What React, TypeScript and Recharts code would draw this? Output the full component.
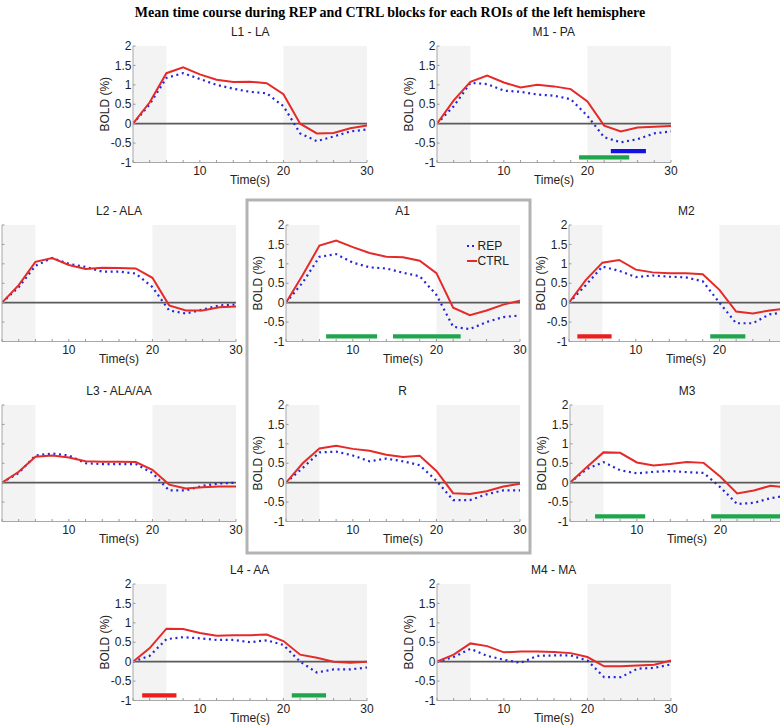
import React from 'react';
import { LineChart, Line, XAxis, YAxis, ReferenceArea, ReferenceLine, Label, Legend } from 'recharts';

const TIME = [2, 4, 6, 8, 10, 12, 14, 16, 18, 20, 22, 24, 26, 28, 30];
const Y_TICKS = [-1, -0.5, 0, 0.5, 1, 1.5, 2];
const X_LABELLED = [10, 20, 30];

const L1_CTRL = [0, 0.55, 1.3, 1.45, 1.27, 1.13, 1.07, 1.08, 1.04, 0.76, 0.0, -0.25, -0.24, -0.12, -0.05];
const L1_REP = [0, 0.5, 1.18, 1.3, 1.15, 1.0, 0.9, 0.82, 0.78, 0.45, -0.25, -0.45, -0.33, -0.2, -0.15];
const M1_CTRL = [0, 0.6, 1.08, 1.24, 1.06, 0.93, 1.0, 0.96, 0.89, 0.57, -0.05, -0.2, -0.1, -0.08, -0.06];
const M1_REP = [0, 0.45, 1.05, 1.02, 0.85, 0.82, 0.75, 0.72, 0.63, 0.2, -0.35, -0.48, -0.4, -0.25, -0.2];
const L2_CTRL = [0, 0.45, 1.05, 1.15, 0.97, 0.87, 0.9, 0.89, 0.88, 0.64, -0.07, -0.2, -0.2, -0.12, -0.1];
const L2_REP = [0, 0.4, 0.95, 1.15, 1.0, 0.92, 0.8, 0.8, 0.75, 0.4, -0.2, -0.28, -0.18, -0.07, -0.05];
const A1_CTRL = [0, 0.71, 1.47, 1.6, 1.43, 1.28, 1.18, 1.17, 1.08, 0.76, -0.13, -0.32, -0.2, -0.05, 0.05];
const A1_REP = [0, 0.52, 1.18, 1.25, 1.03, 0.91, 0.88, 0.77, 0.68, 0.2, -0.62, -0.68, -0.5, -0.37, -0.33];
const M2_CTRL = [0, 0.58, 1.03, 1.1, 0.85, 0.78, 0.76, 0.76, 0.73, 0.33, -0.23, -0.28, -0.2, -0.15, -0.12];
const M2_REP = [0, 0.45, 0.93, 0.82, 0.66, 0.7, 0.67, 0.65, 0.55, 0.0, -0.53, -0.53, -0.3, -0.25, -0.2];
const L3_CTRL = [0, 0.28, 0.67, 0.7, 0.65, 0.55, 0.54, 0.54, 0.53, 0.33, -0.05, -0.15, -0.12, -0.1, -0.1];
const L3_REP = [0, 0.25, 0.7, 0.75, 0.7, 0.5, 0.48, 0.48, 0.48, 0.25, -0.2, -0.2, -0.08, -0.02, 0.0];
const R_CTRL = [0, 0.5, 0.88, 0.95, 0.87, 0.82, 0.72, 0.66, 0.69, 0.3, -0.27, -0.29, -0.22, -0.1, -0.03];
const R_REP = [0, 0.38, 0.78, 0.8, 0.7, 0.55, 0.62, 0.55, 0.45, 0.05, -0.45, -0.45, -0.3, -0.2, -0.2];
const M3_CTRL = [0, 0.4, 0.78, 0.77, 0.52, 0.44, 0.48, 0.53, 0.51, 0.15, -0.28, -0.2, -0.08, -0.12, -0.1];
const M3_REP = [0, 0.35, 0.53, 0.32, 0.24, 0.28, 0.3, 0.27, 0.25, -0.12, -0.55, -0.52, -0.4, -0.33, -0.3];
const L4_CTRL = [0, 0.35, 0.85, 0.84, 0.74, 0.67, 0.68, 0.68, 0.7, 0.53, 0.18, 0.1, 0.0, -0.03, 0.0];
const L4_REP = [0, 0.15, 0.58, 0.63, 0.6, 0.56, 0.56, 0.5, 0.55, 0.43, 0.0, -0.28, -0.2, -0.2, -0.15];
const M4_CTRL = [0, 0.18, 0.47, 0.4, 0.24, 0.26, 0.26, 0.25, 0.22, 0.12, -0.12, -0.12, -0.1, -0.08, 0.03];
const M4_REP = [0, 0.12, 0.33, 0.15, 0.05, -0.03, 0.15, 0.16, 0.16, 0.03, -0.4, -0.4, -0.18, -0.16, -0.07];

// significance intervals
const M1_SIG = [{ from: 19, to: 25, kind: 'green', lane: 0 }, { from: 22.8, to: 27, kind: 'blue', lane: 1 }];
const A1_SIG = [{ from: 6.8, to: 12.9, kind: 'green', lane: 0 }, { from: 14.8, to: 22.9, kind: 'green', lane: 0 }];
const M2_SIG = [{ from: 3, to: 7.1, kind: 'red', lane: 0 }, { from: 18.9, to: 23.1, kind: 'green', lane: 0 }];
const M3_SIG = [{ from: 5, to: 11, kind: 'green', lane: 0 }, { from: 18.9, to: 30, kind: 'green', lane: 0 }];
const L4_SIG = [{ from: 3.1, to: 7.2, kind: 'red', lane: 0 }, { from: 21, to: 25.1, kind: 'green', lane: 0 }];

const TASK_BLOCKS = [[2, 6], [20, 30]];

const RED = '#e52a2a';
const BLUE = '#2626d8';
const SIG_COLORS: Record<string, string> = { green: '#1fa64d', blue: '#1212e0', red: '#ee1c1c' };
const LANE_Y = [-0.87, -0.71];
const FONT = '"Liberation Sans", Arial, sans-serif';
const AX = '#a8a8a8';
const TXT = '#222';

const VIEW_W = 780;
const YW = 55;
const MR = 10;
const MT = 30;
const XH = 36;
const PW = 234;
const PH = 116.5;

type PanelDef = {
  name: string;
  left: number;
  top: number;
  ctrl: number[];
  rep: number[];
  sig?: { from: number; to: number; kind: string; lane: number }[];
  legend?: boolean;
};

const PANELS: PanelDef[] = [
  { name: 'L1 - LA', left: 133.3, top: 46, ctrl: L1_CTRL, rep: L1_REP },
  { name: 'M1 - PA', left: 436.7, top: 46, ctrl: M1_CTRL, rep: M1_REP, sig: M1_SIG },
  { name: 'L2 - ALA', left: 2, top: 225, ctrl: L2_CTRL, rep: L2_REP },
  { name: 'A1', left: 285.7, top: 225, ctrl: A1_CTRL, rep: A1_REP, sig: A1_SIG, legend: true },
  { name: 'M2', left: 569.3, top: 225, ctrl: M2_CTRL, rep: M2_REP, sig: M2_SIG },
  { name: 'L3 - ALA/AA', left: 2, top: 405, ctrl: L3_CTRL, rep: L3_REP },
  { name: 'R', left: 285.7, top: 405, ctrl: R_CTRL, rep: R_REP },
  { name: 'M3', left: 570, top: 405, ctrl: M3_CTRL, rep: M3_REP, sig: M3_SIG },
  { name: 'L4 - AA', left: 132.7, top: 584, ctrl: L4_CTRL, rep: L4_REP, sig: L4_SIG },
  { name: 'M4 - MA', left: 436.7, top: 584, ctrl: M4_CTRL, rep: M4_REP },
];

const makeXTick = (offsetX: number) => (props: any) => {
  const { x, y, payload } = props;
  const v = payload.value;
  const visible = X_LABELLED.includes(v) && offsetX + x + 8 < VIEW_W;
  return (
    <g>
      <line x1={x} x2={x} y1={y} y2={y - 2.5} stroke="#999" strokeWidth={1} />
      {visible && (
        <text x={x} y={y + 12} textAnchor="middle" fontSize={12} fontFamily={FONT} fill={TXT}>
          {v}
        </text>
      )}
    </g>
  );
};

const makeYTick = (showText: boolean) => (props: any) => {
  const { x, y, payload } = props;
  return (
    <g>
      <line x1={x} x2={x + 2.5} y1={y} y2={y} stroke="#999" strokeWidth={1} />
      {showText && (
        <text x={x - 1.5} y={y + 4.2} textAnchor="end" fontSize={12} fontFamily={FONT} fill={TXT}>
          {String(payload.value)}
        </text>
      )}
    </g>
  );
};

const TimeLabel = (props: any) => {
  const vb = props.viewBox || {};
  return (
    <text x={vb.x + vb.width / 2} y={vb.y + 21.5} textAnchor="middle" fontSize={12} fontFamily={FONT} fill={TXT}>
      Time(s)
    </text>
  );
};

const BoldLabel = (props: any) => {
  const vb = props.viewBox || {};
  const cx = vb.x + vb.width - 28;
  const cy = vb.y + vb.height / 2;
  return (
    <text
      x={cx}
      y={cy}
      transform={`rotate(-90 ${cx} ${cy})`}
      textAnchor="middle"
      dominantBaseline="central"
      fontSize={12}
      fontFamily={FONT}
      fill={TXT}
    >
      BOLD (%)
    </text>
  );
};

const LegendBox = () => (
  <svg width={60} height={34} style={{ display: 'block', overflow: 'visible' }}>
    <line x1={0} x2={10} y1={8} y2={8} stroke={BLUE} strokeWidth={2} strokeDasharray="2 3" />
    <text x={10.5} y={12.3} fontSize={12} fontFamily={FONT} fill={TXT}>REP</text>
    <line x1={0} x2={10} y1={23} y2={23} stroke={RED} strokeWidth={2} />
    <text x={10.5} y={27.3} fontSize={12} fontFamily={FONT} fill={TXT}>CTRL</text>
  </svg>
);

function Panel({ p }: { p: PanelDef }) {
  const data = TIME.map((t, i) => ({ t, ctrl: p.ctrl[i], rep: p.rep[i] }));
  const W = YW + PW + MR;
  const H = MT + PH + XH;
  const offsetX = p.left - YW;
  const yTextVisible = p.left > 40;
  const XT = makeXTick(offsetX);
  const YT = makeYTick(yTextVisible);
  return (
    <div style={{ position: 'absolute', left: offsetX, top: p.top - MT, width: W, height: H }}>
      <LineChart width={W} height={H} data={data} margin={{ top: MT, right: MR, bottom: 0, left: 0 }}>
        {TASK_BLOCKS.map(([a, b], i) => (
          <ReferenceArea key={'blk' + i} x1={a} x2={b} y1={-1} y2={2} fill="#f3f3f3" fillOpacity={1} stroke="none" />
        ))}
        <XAxis
          dataKey="t"
          type="number"
          domain={[2, 30]}
          ticks={TIME}
          interval={0}
          tick={(props: any) => <XT {...props} />}
          tickLine={false}
          tickSize={0}
          tickMargin={0}
          height={XH}
          axisLine={{ stroke: AX }}
          allowDataOverflow
        >
          <Label content={TimeLabel} />
        </XAxis>
        <YAxis
          type="number"
          domain={[-1, 2]}
          ticks={Y_TICKS}
          interval={0}
          tick={(props: any) => <YT {...props} />}
          tickLine={false}
          tickSize={0}
          tickMargin={0}
          width={YW}
          axisLine={{ stroke: AX }}
          allowDataOverflow
        >
          {yTextVisible && <Label content={BoldLabel} />}
        </YAxis>
        <ReferenceLine y={0} stroke="#5a5a5a" strokeWidth={1.6} />
        {(p.sig || []).map((s, i) => (
          <ReferenceArea
            key={'sig' + i}
            x1={s.from}
            x2={s.to}
            y1={LANE_Y[s.lane] - 0.055}
            y2={LANE_Y[s.lane] + 0.055}
            fill={SIG_COLORS[s.kind]}
            fillOpacity={1}
            stroke="none"
          />
        ))}
        <Line
          type="linear"
          dataKey="rep"
          stroke={BLUE}
          strokeWidth={2.2}
          strokeDasharray="2 3.6"
          dot={false}
          isAnimationActive={false}
        />
        <Line type="linear" dataKey="ctrl" stroke={RED} strokeWidth={2} dot={false} isAnimationActive={false} />
        {p.legend && (
          <Legend
            layout="horizontal"
            align="center"
            verticalAlign="middle"
            content={() => <LegendBox />}
            wrapperStyle={{ position: 'absolute', left: 236, top: 42.7, width: 60, height: 34 }}
          />
        )}
      </LineChart>
    </div>
  );
}

export default function App() {
  return (
    <div style={{ position: 'absolute', left: 0, top: 0, width: VIEW_W, height: 728, overflow: 'hidden', background: '#fff' }}>
      {PANELS.map((p) => (
        <Panel key={p.name} p={p} />
      ))}
      <svg width={VIEW_W} height={728} style={{ position: 'absolute', left: 0, top: 0, pointerEvents: 'none' }}>
        <text
          x={390}
          y={17}
          textAnchor="middle"
          fontSize={14}
          fontWeight="bold"
          fontFamily='"Liberation Serif", "Times New Roman", serif'
          fill="#000"
        >
          Mean time course during REP and CTRL blocks for each ROIs of the left hemisphere
        </text>
        {PANELS.map((p) => (
          <text
            key={'t' + p.name}
            x={p.left + PW / 2}
            y={p.top - 10}
            textAnchor="middle"
            fontSize={12}
            fontFamily={FONT}
            fill={TXT}
          >
            {p.name}
          </text>
        ))}
        <rect x={247} y={200} width={283} height={353} fill="none" stroke="#b3b3b3" strokeWidth={3} />
      </svg>
    </div>
  );
}
